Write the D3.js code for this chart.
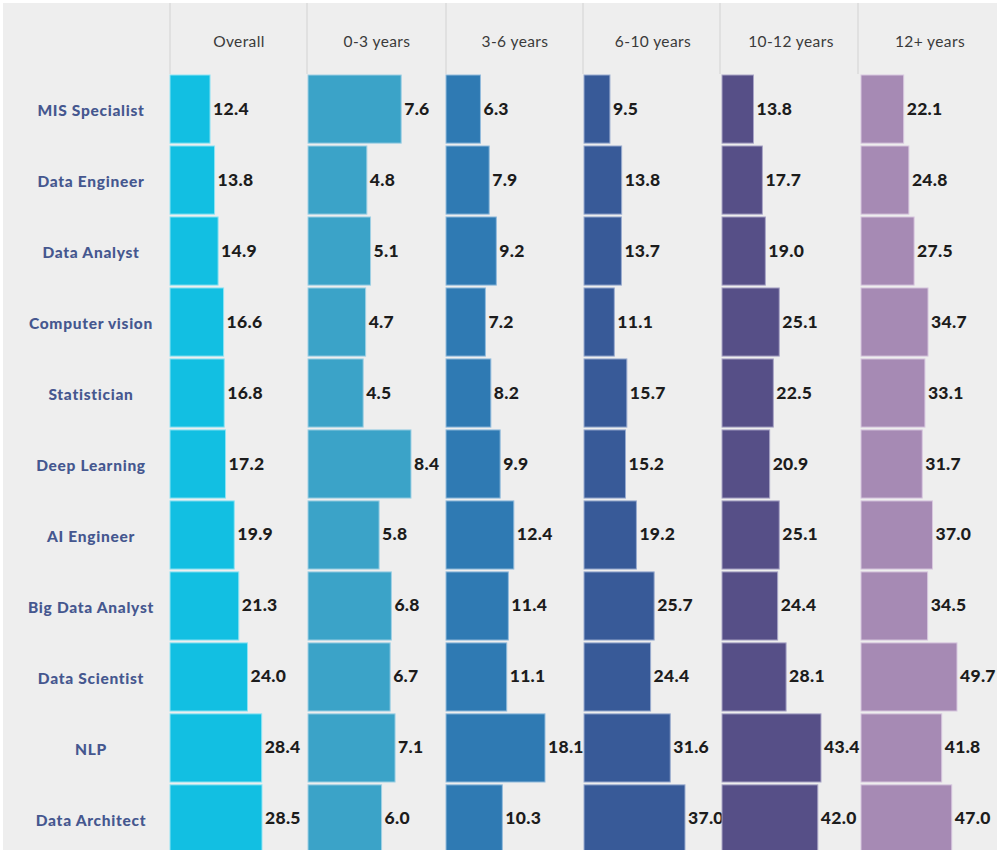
<!DOCTYPE html>
<html>
<head>
<meta charset="utf-8">
<script src="https://cdn.jsdelivr.net/npm/d3@7/dist/d3.min.js"></script>
<style>
  html, body { margin: 0; padding: 0; background: #ffffff; }
  svg { display: block; }
</style>
</head>
<body>
<svg id="chart" width="1007" height="850"></svg>
<script>
// ---- Data ----
const categories = ["MIS Specialist","Data Engineer","Data Analyst","Computer vision","Statistician","Deep Learning","AI Engineer","Big Data Analyst","Data Scientist","NLP","Data Architect"];
const seriesLabels = ["Overall","0-3 years","3-6 years","6-10 years","10-12 years","12+ years"];
const overall = [12.4,13.8,14.9,16.6,16.8,17.2,19.9,21.3,24.0,28.4,28.5];
const years0to3 = [7.6,4.8,5.1,4.7,4.5,8.4,5.8,6.8,6.7,7.1,6.0];
const years3to6 = [6.3,7.9,9.2,7.2,8.2,9.9,12.4,11.4,11.1,18.1,10.3];
const years6to10 = [9.5,13.8,13.7,11.1,15.7,15.2,19.2,25.7,24.4,31.6,37.0];
const years10to12 = [13.8,17.7,19.0,25.1,22.5,20.9,25.1,24.4,28.1,43.4,42.0];
const years12plus = [22.1,24.8,27.5,34.7,33.1,31.7,37.0,34.5,49.7,41.8,47.0];
const seriesValues = [overall, years0to3, years3to6, years6to10, years10to12, years12plus];

// ---- Layout / style ----
const colors = ["#12bfe2","#3ba3c8","#2f7ab3","#385a98","#564f87","#a68ab4"];
const strokes = ["#8fe3f3","#9fd0e4","#93bcdc","#9aaccf","#a9a5c6","#d8c8df"];
const colLeft = [170, 308, 446, 584, 722, 861];
const colWidth = 138;
const maxBarPx = [92, 103, 99, 101, 99, 96];

const svg = d3.select("#chart");

svg.append("rect").attr("x", 3).attr("y", 3).attr("width", 994).attr("height", 847).attr("fill", "#eeeeee");

const y = d3.scaleBand().domain(categories).range([75, 853]).paddingInner(0.04).paddingOuter(0);

// header dividers
const dividers = [170, 307, 446, 583, 720, 858];
svg.selectAll("line.div").data(dividers).join("line")
  .attr("x1", d => d).attr("x2", d => d).attr("y1", 3).attr("y2", 74)
  .attr("stroke", "#d2d2d2").attr("stroke-width", 1);

// headers
svg.selectAll("text.hdr").data(seriesLabels).join("text")
  .attr("class", "hdr")
  .attr("x", (d, i) => colLeft[i] + colWidth / 2)
  .attr("y", 41)
  .attr("text-anchor", "middle")
  .attr("dominant-baseline", "central")
  .attr("font-family", "Lato, 'Open Sans', sans-serif")
  .attr("font-size", 15.5)
  .attr("letter-spacing", 0.4)
  .attr("fill", "#3a3a3a")
  .text(d => d);

// row labels
svg.selectAll("text.rowlab").data(categories).join("text")
  .attr("class", "rowlab")
  .attr("x", 91)
  .attr("y", d => y(d) + y.bandwidth() / 2 + 1)
  .attr("text-anchor", "middle")
  .attr("dominant-baseline", "central")
  .attr("font-family", "Lato, 'Open Sans', sans-serif")
  .attr("font-weight", 900)
  .attr("font-size", 15.5)
  .attr("letter-spacing", 0.7)
  .attr("fill", "#45578f")
  .text(d => d);

seriesValues.forEach((vals, i) => {
  const x = d3.scaleLinear().domain([0, d3.max(vals)]).range([0, maxBarPx[i]]);
  const g = svg.append("g").attr("transform", `translate(${colLeft[i]},0)`);
  const rows = categories.map((c, k) => ({ c, v: vals[k] }));
  g.selectAll("rect").data(rows).join("rect")
    .attr("x", 0)
    .attr("y", d => y(d.c))
    .attr("width", d => x(d.v))
    .attr("height", y.bandwidth())
    .attr("fill", colors[i])
    .attr("stroke", strokes[i])
    .attr("stroke-width", 1);
  g.selectAll("text").data(rows).join("text")
    .attr("x", d => x(d.v) + 3)
    .attr("y", d => y(d.c) + y.bandwidth() / 2 - 1)
    .attr("dominant-baseline", "central")
    .attr("font-family", "Lato, 'Open Sans', sans-serif")
    .attr("font-weight", 900)
    .attr("font-size", 17.5)
    .attr("letter-spacing", 0.3)
    .attr("fill", "#1c1c1c")
    .text(d => d.v.toFixed(1));
});
</script>
</body>
</html>
